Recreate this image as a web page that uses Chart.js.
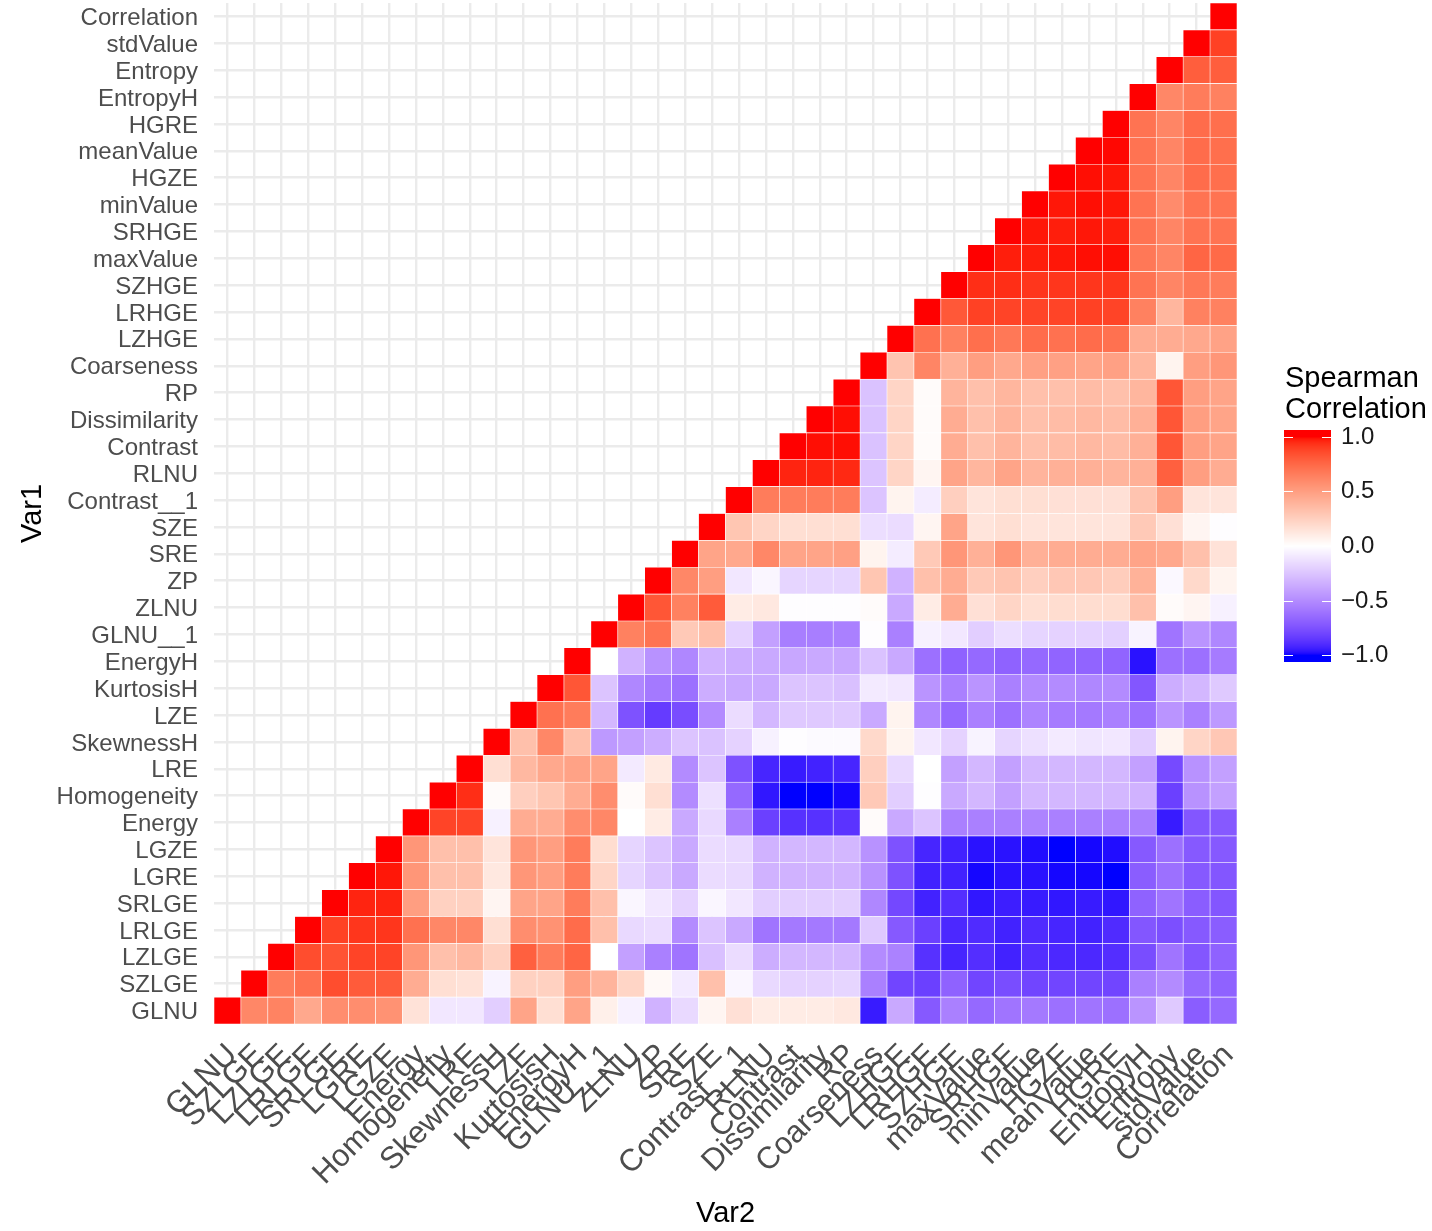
<!DOCTYPE html>
<html>
<head>
<meta charset="utf-8">
<script src="https://cdn.jsdelivr.net/npm/chart.js@4.4.1/dist/chart.umd.min.js"></script>
<style>
  html, body { margin: 0; padding: 0; background: #fff; }
  #wrap { position: relative; width: 1432px; height: 1231px; }
</style>
</head>
<body>
<div id="wrap"><canvas id="heat"></canvas></div>
<script>
// variable order (x left->right, y bottom->top)
const varNames = [
  "GLNU", "SZLGE", "LZLGE", "LRLGE", "SRLGE", "LGRE", "LGZE", "Energy",
  "Homogeneity", "LRE", "SkewnessH", "LZE", "KurtosisH", "EnergyH", "GLNU__1",
  "ZLNU", "ZP", "SRE", "SZE", "Contrast__1", "RLNU", "Contrast", "Dissimilarity",
  "RP", "Coarseness", "LZHGE", "LRHGE", "SZHGE", "maxValue", "SRHGE", "minValue",
  "HGZE", "meanValue", "HGRE", "EntropyH", "Entropy", "stdValue", "Correlation"
];

// each row starts at the diagonal and runs to the last column
const corrGLNU = [1, 0.61, 0.63, 0.45, 0.58, 0.58, 0.56, 0.15, -0.1, -0.1, -0.21, 0.47, 0.17, 0.47, 0.08, -0.06, -0.33, -0.16, 0.05, 0.16, 0.1, 0.1, 0.1, 0.12, -0.95, -0.37, -0.72, -0.55, -0.65, -0.6, -0.58, -0.62, -0.6, -0.62, -0.46, -0.23, -0.7, -0.65];
const corrSZLGE = [1, 0.66, 0.71, 0.85, 0.8, 0.8, 0.43, 0.17, 0.15, -0.05, 0.24, 0.24, 0.5, 0.39, 0.22, 0.03, -0.09, 0.33, -0.04, -0.16, -0.19, -0.19, -0.18, -0.55, -0.8, -0.82, -0.68, -0.8, -0.77, -0.8, -0.8, -0.8, -0.8, -0.55, -0.5, -0.65, -0.68];
const corrLZLGE = [1, 0.85, 0.83, 0.88, 0.88, 0.54, 0.33, 0.37, 0.24, 0.78, 0.66, 0.76, 0, -0.41, -0.55, -0.6, -0.27, -0.15, -0.35, -0.31, -0.31, -0.31, -0.5, -0.54, -0.88, -0.92, -0.89, -0.93, -0.89, -0.91, -0.91, -0.89, -0.77, -0.6, -0.73, -0.68];
const corrLRLGE = [1, 0.89, 0.92, 0.92, 0.71, 0.61, 0.61, 0.17, 0.58, 0.56, 0.73, 0.33, -0.16, -0.15, -0.5, -0.25, -0.37, -0.6, -0.58, -0.58, -0.58, -0.23, -0.72, -0.82, -0.91, -0.9, -0.93, -0.9, -0.92, -0.93, -0.9, -0.73, -0.76, -0.72, -0.7];
const corrSRLGE = [1, 0.96, 0.96, 0.5, 0.24, 0.24, 0.05, 0.47, 0.47, 0.66, 0.33, -0.04, -0.1, -0.19, -0.04, -0.1, -0.21, -0.21, -0.21, -0.21, -0.52, -0.79, -0.93, -0.89, -0.96, -0.94, -0.95, -0.96, -0.95, -0.96, -0.68, -0.6, -0.7, -0.73];
const corrLGRE = [1, 0.98, 0.54, 0.33, 0.33, 0.12, 0.54, 0.5, 0.66, 0.22, -0.18, -0.25, -0.37, -0.15, -0.16, -0.33, -0.33, -0.33, -0.33, -0.47, -0.75, -0.93, -0.93, -0.99, -0.97, -0.97, -0.99, -0.99, -1, -0.7, -0.62, -0.72, -0.73];
const corrLGZE = [1, 0.54, 0.33, 0.33, 0.14, 0.54, 0.5, 0.66, 0.18, -0.18, -0.25, -0.37, -0.15, -0.16, -0.33, -0.31, -0.31, -0.31, -0.47, -0.75, -0.92, -0.93, -0.97, -0.97, -0.98, -1, -0.99, -0.98, -0.72, -0.62, -0.72, -0.72];
const corrEnergy = [1, 0.88, 0.88, -0.06, 0.43, 0.43, 0.58, 0.61, 0, 0.1, -0.37, -0.16, -0.55, -0.82, -0.88, -0.88, -0.87, 0.02, -0.37, -0.25, -0.55, -0.55, -0.55, -0.53, -0.55, -0.55, -0.55, -0.55, -0.95, -0.73, -0.72];
const corrHomogeneity = [1, 0.94, 0.02, 0.25, 0.3, 0.43, 0.58, 0.02, 0.17, -0.5, -0.13, -0.65, -0.96, -1, -1, -0.99, 0.28, -0.21, -0.01, -0.37, -0.31, -0.41, -0.31, -0.31, -0.31, -0.31, -0.33, -0.82, -0.47, -0.41];
const corrLRE = [1, 0.17, 0.37, 0.45, 0.48, 0.47, -0.09, 0.11, -0.5, -0.25, -0.75, -0.92, -0.95, -0.93, -0.92, 0.25, -0.16, 0, -0.41, -0.31, -0.41, -0.31, -0.31, -0.31, -0.31, -0.41, -0.78, -0.47, -0.41];
const corrSkewnessH = [1, 0.33, 0.61, 0.33, -0.44, -0.41, -0.35, -0.25, -0.26, -0.19, -0.06, -0.01, -0.02, -0.02, 0.2, 0.06, -0.1, -0.19, -0.05, -0.18, -0.13, -0.09, -0.11, -0.1, -0.21, 0.06, 0.22, 0.29];
const corrLZE = [1, 0.71, 0.66, -0.31, -0.75, -0.84, -0.77, -0.5, -0.15, -0.31, -0.23, -0.23, -0.23, -0.37, 0.06, -0.52, -0.65, -0.55, -0.62, -0.53, -0.57, -0.58, -0.55, -0.62, -0.46, -0.55, -0.44];
const corrKurtosisH = [1, 0.82, -0.25, -0.52, -0.58, -0.62, -0.35, -0.37, -0.37, -0.25, -0.25, -0.27, -0.09, -0.1, -0.46, -0.55, -0.46, -0.55, -0.5, -0.5, -0.52, -0.5, -0.73, -0.35, -0.31, -0.23];
const corrEnergyH = [1, 0, -0.33, -0.47, -0.52, -0.33, -0.35, -0.37, -0.38, -0.37, -0.38, -0.26, -0.37, -0.62, -0.68, -0.65, -0.68, -0.65, -0.67, -0.67, -0.67, -0.97, -0.62, -0.62, -0.57];
const corrGLNU__1 = [1, 0.64, 0.7, 0.28, 0.33, -0.19, -0.41, -0.56, -0.56, -0.55, -0.01, -0.55, -0.06, -0.1, -0.21, -0.14, -0.18, -0.19, -0.19, -0.2, -0.05, -0.6, -0.46, -0.52];
const corrZLNU = [1, 0.82, 0.64, 0.8, 0.1, 0.12, -0.01, -0.01, -0.01, 0.02, -0.37, 0.1, 0.43, 0.16, 0.22, 0.17, 0.18, 0.18, 0.18, 0.33, 0.02, 0.05, -0.06];
const corrZP = [1, 0.61, 0.5, -0.1, -0.04, -0.18, -0.18, -0.18, 0.3, -0.33, 0.33, 0.43, 0.28, 0.31, 0.25, 0.29, 0.29, 0.26, 0.4, -0.03, 0.2, 0.06];
const corrSRE = [1, 0.47, 0.45, 0.61, 0.47, 0.47, 0.49, 0.06, -0.08, 0.28, 0.54, 0.41, 0.54, 0.41, 0.43, 0.43, 0.43, 0.47, 0.45, 0.33, 0.15];
const corrSZE = [1, 0.3, 0.22, 0.17, 0.17, 0.17, -0.14, -0.15, 0.05, 0.47, 0.14, 0.17, 0.14, 0.14, 0.14, 0.14, 0.28, 0.16, 0.05, -0.01];
const corrContrast__1 = [1, 0.66, 0.66, 0.66, 0.66, -0.25, 0.06, -0.08, 0.25, 0.14, 0.17, 0.17, 0.16, 0.16, 0.16, 0.31, 0.5, 0.14, 0.14];
const corrRLNU = [1, 0.96, 0.96, 0.95, -0.25, 0.22, 0.05, 0.47, 0.38, 0.47, 0.39, 0.41, 0.41, 0.39, 0.41, 0.78, 0.5, 0.43];
const corrContrast = [1, 0.99, 0.99, -0.26, 0.22, 0.02, 0.43, 0.33, 0.39, 0.33, 0.35, 0.37, 0.35, 0.41, 0.82, 0.5, 0.47];
const corrDissimilarity = [1, 0.99, -0.26, 0.22, 0.02, 0.43, 0.33, 0.39, 0.33, 0.35, 0.37, 0.35, 0.41, 0.82, 0.5, 0.47];
const corrRP = [1, -0.26, 0.22, 0.02, 0.39, 0.33, 0.38, 0.33, 0.33, 0.35, 0.33, 0.38, 0.82, 0.5, 0.47];
const corrCoarseness = [1, 0.31, 0.62, 0.41, 0.5, 0.45, 0.49, 0.49, 0.47, 0.49, 0.38, 0.06, 0.5, 0.54];
const corrLZHGE = [1, 0.71, 0.64, 0.72, 0.68, 0.73, 0.71, 0.73, 0.71, 0.43, 0.43, 0.45, 0.48];
const corrLRHGE = [1, 0.81, 0.89, 0.88, 0.88, 0.88, 0.89, 0.88, 0.64, 0.38, 0.64, 0.64];
const corrSZHGE = [1, 0.94, 0.94, 0.92, 0.92, 0.92, 0.92, 0.7, 0.62, 0.68, 0.66];
const corrMaxValue = [1, 0.97, 0.97, 0.98, 0.99, 0.99, 0.68, 0.62, 0.76, 0.74];
const corrSRHGE = [1, 0.98, 0.97, 0.98, 0.97, 0.7, 0.62, 0.7, 0.7];
const corrMinValue = [1, 0.98, 0.99, 0.98, 0.7, 0.59, 0.7, 0.7];
const corrHGZE = [1, 0.99, 0.98, 0.7, 0.62, 0.73, 0.72];
const corrMeanValue = [1, 0.995, 0.7, 0.62, 0.73, 0.72];
const corrHGRE = [1, 0.7, 0.62, 0.73, 0.72];
const corrEntropyH = [1, 0.61, 0.66, 0.64];
const corrEntropy = [1, 0.79, 0.79];
const corrStdValue = [1, 0.89];
const corrCorrelation = [1];

const corrRows = [
  corrGLNU, corrSZLGE, corrLZLGE, corrLRLGE, corrSRLGE, corrLGRE, corrLGZE, corrEnergy,
  corrHomogeneity, corrLRE, corrSkewnessH, corrLZE, corrKurtosisH, corrEnergyH, corrGLNU__1,
  corrZLNU, corrZP, corrSRE, corrSZE, corrContrast__1, corrRLNU, corrContrast, corrDissimilarity,
  corrRP, corrCoarseness, corrLZHGE, corrLRHGE, corrSZHGE, corrMaxValue, corrSRHGE, corrMinValue,
  corrHGZE, corrMeanValue, corrHGRE, corrEntropyH, corrEntropy, corrStdValue, corrCorrelation
];

const legendTicks = [1.0, 0.5, 0.0, -0.5, -1.0];

// --- blue / white / red gradient, interpolated in Lab like ggplot ---
const toLin = c => { c /= 255; return c <= 0.04045 ? c / 12.92 : Math.pow((c + 0.055) / 1.055, 2.4); };
const fromLin = c => {
  c = c <= 0.0031308 ? 12.92 * c : 1.055 * Math.pow(c, 1 / 2.4) - 0.055;
  return Math.round(Math.min(1, Math.max(0, c)) * 255);
};
const WX = 0.95047, WY = 1.0, WZ = 1.08883;

function rgbToLab(rgb) {
  const [r, g, b] = rgb.map(toLin);
  const x = (0.4124 * r + 0.3576 * g + 0.1805 * b) / WX;
  const y = (0.2126 * r + 0.7152 * g + 0.0722 * b) / WY;
  const z = (0.0193 * r + 0.1192 * g + 0.9505 * b) / WZ;
  const f = t => t > 0.008856 ? Math.cbrt(t) : 7.787 * t + 16 / 116;
  return [116 * f(y) - 16, 500 * (f(x) - f(y)), 200 * (f(y) - f(z))];
}

function labToRgb([L, a, bb]) {
  const fy = (L + 16) / 116, fx = fy + a / 500, fz = fy - bb / 200;
  const inv = t => t > 0.206893 ? t * t * t : (t - 16 / 116) / 7.787;
  const x = inv(fx) * WX, y = inv(fy) * WY, z = inv(fz) * WZ;
  const r = 3.2406 * x - 1.5372 * y - 0.4986 * z;
  const g = -0.9689 * x + 1.8758 * y + 0.0415 * z;
  const b = 0.0557 * x - 0.2040 * y + 1.0570 * z;
  return [fromLin(r), fromLin(g), fromLin(b)];
}

const labWhite = rgbToLab([255, 255, 255]);
const labRed = rgbToLab([255, 0, 0]);
const labBlue = rgbToLab([0, 0, 255]);

function fillColor(v) {
  const t = Math.min(1, Math.abs(v));
  const end = v >= 0 ? labRed : labBlue;
  const lab = labWhite.map((w, k) => w + (end[k] - w) * t);
  const [r, g, b] = labToRgb(lab);
  return `rgb(${r},${g},${b})`;
}

// --- colourbar legend on the right ---
const colourbarLegend = {
  id: "colourbarLegend",
  afterDraw(chart) {
    const ctx = chart.ctx;
    const left = 1284, width = 47, top = 430, bottom = 662;
    const mid = 546, perUnit = 109.2;
    ctx.save();
    ctx.fillStyle = "#000";
    ctx.font = '29px "Liberation Sans", Arial, sans-serif';
    ctx.textAlign = "left";
    ctx.textBaseline = "alphabetic";
    ctx.fillText("Spearman", 1285, 387);
    ctx.fillText("Correlation", 1285, 418);

    for (let y = top; y < bottom; y++) {
      const v = Math.max(-1, Math.min(1, (mid - (y + 0.5)) / perUnit));
      ctx.fillStyle = fillColor(v);
      ctx.fillRect(left, y, width, 1);
    }

    ctx.strokeStyle = "#fff";
    ctx.lineWidth = 1;
    ctx.font = '24px "Liberation Sans", Arial, sans-serif';
    ctx.textBaseline = "middle";
    ctx.fillStyle = "#1a1a1a";
    legendTicks.forEach(t => {
      const y = Math.round(mid - t * perUnit) + 0.5;
      ctx.beginPath();
      ctx.moveTo(left, y); ctx.lineTo(left + 9, y);
      ctx.moveTo(left + width - 9, y); ctx.lineTo(left + width, y);
      ctx.stroke();
      ctx.fillText(t.toFixed(1).replace("-", "\u2212"), 1341, y);
    });
    ctx.restore();
  }
};

Chart.defaults.font.family = '"Liberation Sans", Arial, sans-serif';

const datasets = corrRows.map((row, i) => ({
  label: varNames[i],
  data: varNames.map((_, j) => (j >= i ? [i + 0.5, i + 1.5] : null)),
  backgroundColor: ctx => fillColor(corrRows[ctx.datasetIndex][ctx.dataIndex - ctx.datasetIndex]),
  borderColor: "#ffffff",
  borderWidth: 0.6,
  borderSkipped: false,
  grouped: false,
  barPercentage: 1,
  categoryPercentage: 1
}));

const gridStyle = { color: "#EBEBEB", lineWidth: 2.4, drawTicks: false };

new Chart(document.getElementById("heat"), {
  type: "bar",
  data: { labels: varNames, datasets },
  options: {
    responsive: true,
    maintainAspectRatio: false,
    animation: false,
    layout: { padding: { top: 3, right: 195, left: 0, bottom: 0 } },
    plugins: { legend: { display: false }, tooltip: { enabled: false } },
    scales: {
      x: {
        type: "category",
        offset: true,
        grid: { ...gridStyle, offset: false },
        border: { display: false },
        ticks: {
          autoSkip: false, minRotation: 45, maxRotation: 45,
          color: "#4D4D4D", font: { size: 31 }, padding: 13, labelOffset: 5
        },
        title: { display: true, text: "Var2", color: "#000", font: { size: 29 }, padding: { top: 0, bottom: 0 } },
        afterFit: s => { s.height = 207; s.paddingLeft = 0; s.paddingRight = 0; }
      },
      y: {
        type: "linear",
        min: 0.5, max: 38.5,
        grid: gridStyle,
        border: { display: false },
        afterBuildTicks: s => { s.ticks = varNames.map((_, k) => ({ value: k + 1 })); },
        ticks: {
          autoSkip: false,
          color: "#4D4D4D", font: { size: 24 }, padding: 16, labelOffset: 2,
          callback: v => varNames[v - 1]
        },
        title: { display: true, text: "Var1", color: "#000", font: { size: 29 }, padding: { top: 16, bottom: 0 } },
        afterFit: s => { s.width = 214; s.paddingTop = 0; s.paddingBottom = 0; }
      }
    }
  },
  plugins: [colourbarLegend]
});
</script>
</body>
</html>
